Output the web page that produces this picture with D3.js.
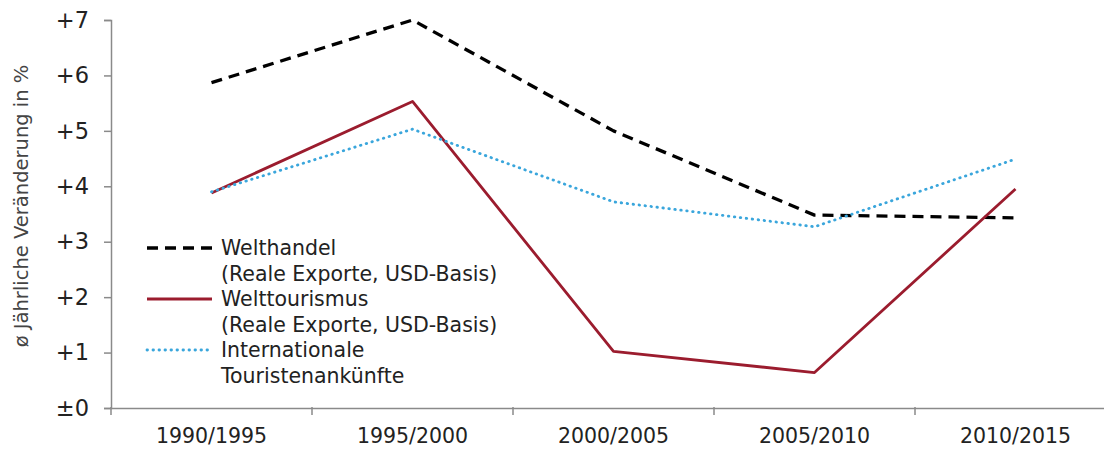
<!DOCTYPE html>
<html><head><meta charset="utf-8">
<script src="https://cdn.jsdelivr.net/npm/d3@7"></script>
<style>body{margin:0;background:#fff}svg{display:block}</style>
</head><body><svg id="c" width="1104" height="449"></svg>
<script>
const categories = ["1990/1995","1995/2000","2000/2005","2005/2010","2010/2015"];
const welthandel = [5.87, 7.0, 5.0, 3.48, 3.43];
const welttourismus = [3.88, 5.53, 1.02, 0.64, 3.95];
const ankuenfte = [3.9, 5.03, 3.72, 3.27, 4.49];
const yTicks = [0,1,2,3,4,5,6,7];
const yTickLabels = ["±0","+1","+2","+3","+4","+5","+6","+7"];
const yTitle = "ø Jährliche Veränderung in %";
const legendItems = [
  {lines:["Welthandel","(Reale Exporte, USD-Basis)"], color:"#000", dash:"11,7", w:3.3, cap:"butt"},
  {lines:["Welttourismus","(Reale Exporte, USD-Basis)"], color:"#9b1c2e", dash:null, w:2.8, cap:"butt"},
  {lines:["Internationale","Touristenankünfte"], color:"#3aa6dc", dash:"0.5,5.5", w:2.8, cap:"round"}
];
const series = [welthandel, welttourismus, ankuenfte];

const svg = d3.select("#c");
const x = d3.scaleBand().domain(categories).range([111, 1116]);
const y = d3.scaleLinear().domain([0,7]).range([408, 20]);
const axisColor = "#8a8a8a";

// y axis
const ya = svg.append("g").attr("transform","translate(111,0)")
  .call(d3.axisLeft(y).tickValues(yTicks).tickFormat((d,i)=>yTickLabels[i]).tickSize(7).tickPadding(15));
ya.select(".domain").attr("stroke",axisColor).attr("stroke-width",1.5);
ya.selectAll(".tick line").attr("stroke",axisColor).attr("stroke-width",1.5);
ya.selectAll("text").attr("font-family","DejaVu Sans, Verdana, sans-serif").attr("font-size",22.5).attr("fill","#222");

// x axis
const xa = svg.append("g").attr("transform","translate(0,408)")
  .call(d3.axisBottom(x).tickSize(0).tickPadding(20));
xa.select(".domain").attr("stroke",axisColor).attr("stroke-width",1.5);
xa.selectAll("text").attr("font-family","DejaVu Sans, Verdana, sans-serif").attr("font-size",20.5).attr("fill","#222");
const bounds = categories.map(c=>x(c)).concat([x.range()[1]]);
xa.selectAll(".bt").data(bounds).enter().append("line")
  .attr("x1",d=>d).attr("x2",d=>d).attr("y1",-1).attr("y2",7)
  .attr("stroke",axisColor).attr("stroke-width",1.5);

// y title
svg.append("text").attr("transform","translate(28,206) rotate(-90)")
  .attr("text-anchor","middle").attr("font-family","DejaVu Sans, sans-serif")
  .attr("font-size",19.5).attr("fill","#444").text(yTitle);

// lines
const line = d3.line().x((d,i)=>x(categories[i])+x.bandwidth()/2).y(d=>y(d));
series.forEach((s,k)=>{
  const it = legendItems[k];
  svg.append("path").datum(s).attr("d",line).attr("fill","none")
    .attr("stroke",it.color).attr("stroke-width",it.w)
    .attr("stroke-dasharray",it.dash).attr("stroke-linejoin","round")
    .attr("stroke-linecap", it.cap);
});

// legend
const lg = svg.append("g");
legendItems.forEach((it,k)=>{
  const base = 255 + k*51;
  lg.append("line").attr("x1",147).attr("x2",212).attr("y1",base-7).attr("y2",base-7)
    .attr("stroke",it.color).attr("stroke-width",it.w).attr("stroke-dasharray",it.dash)
    .attr("stroke-linecap", it.cap);
  it.lines.forEach((t,j)=>{
    lg.append("text").attr("x",221).attr("y",base+j*25.5).attr("font-family","DejaVu Sans, Verdana, sans-serif")
      .attr("font-size",20.5).attr("fill","#222").text(t);
  });
});
</script></body></html>
